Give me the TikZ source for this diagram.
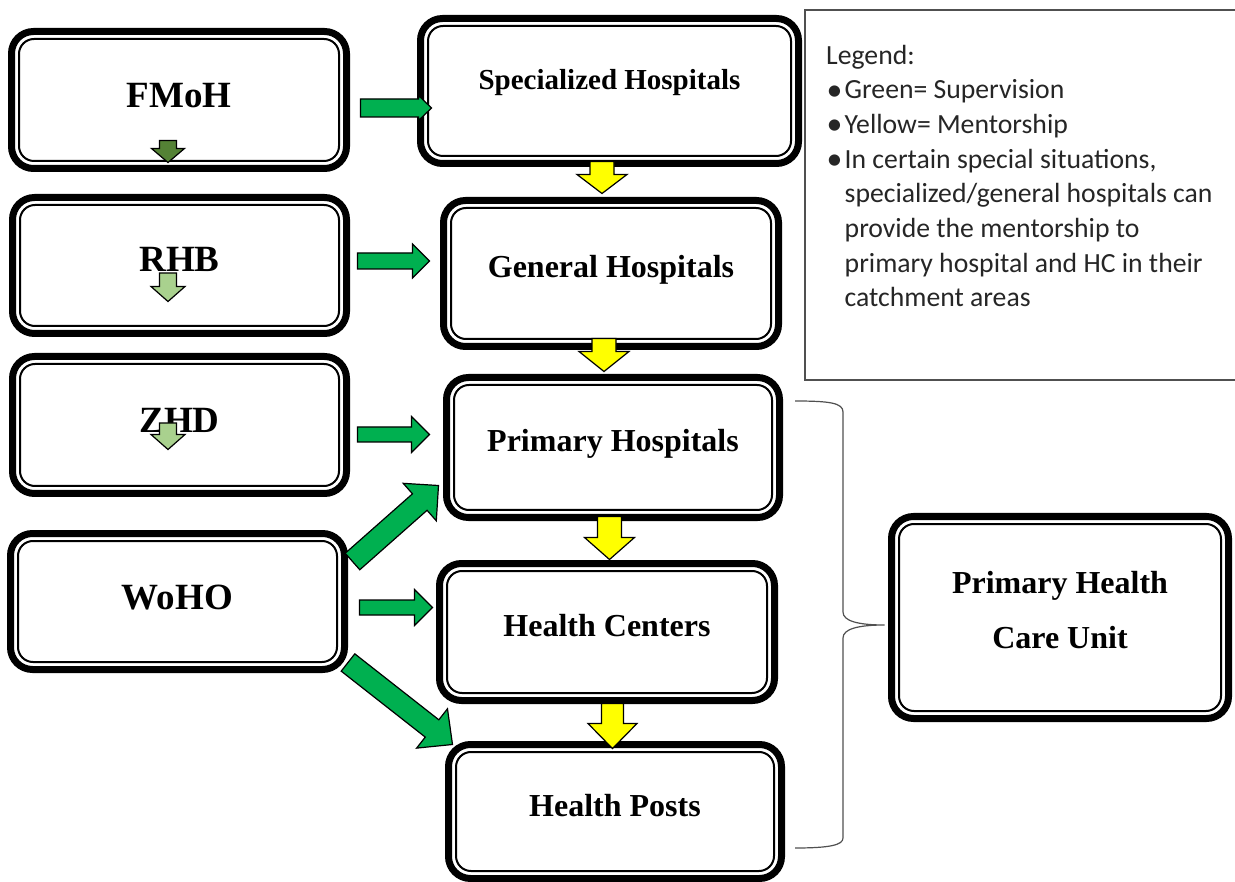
\documentclass[tikz,border=0pt]{standalone}
\usepackage{fontspec}
\setmainfont{Liberation Serif}
\newfontfamily\legfont{Carlito}
\usetikzlibrary{calc}
\definecolor{supgreen}{HTML}{00B050}
\definecolor{darkgreen}{HTML}{548235}
\definecolor{lightgreen}{HTML}{A9D18E}
\definecolor{mentyellow}{HTML}{FFFF00}
\definecolor{bracegrey}{HTML}{505050}
\definecolor{legendtext}{HTML}{262626}
\newcommand\legbullet{\makebox[18.5pt][l]{\hspace*{0.5pt}\raisebox{-1.5pt}{\scalebox{1.15}{•}}}}
\tikzset{
  dbox/.style={draw, line width=7pt, rounded corners=22pt, inner sep=0pt, align=center,
    path picture={\draw[line width=2pt, rounded corners=15pt]
      ([shift={(7.5pt,-7.5pt)}]path picture bounding box.north west) rectangle
      ([shift={(-7.5pt,7.5pt)}]path picture bounding box.south east);}},
  leftfont/.style={font=\bfseries\fontsize{37}{44}\selectfont},
  rightfont/.style={font=\bfseries\fontsize{32}{55}\selectfont},
  barrowline/.style={draw=black, line width=1.2pt, line join=miter},
  bracepath/.style={draw=bracegrey, line width=1.2pt},
}
% block arrow: #1 fill, #2 from, #3 to, #4 shaft half width, #5 head half width, #6 head length
\newcommand\blockarrow[6]{%
  \path let \p1=(#2), \p2=(#3) in \pgfextra{%
    \pgfmathsetmacro\bang{atan2(\y2-\y1,\x2-\x1)}%
    \pgfmathsetmacro\blen{veclen(\x2-\x1,\y2-\y1)}%
    \global\let\bang\bang\global\let\blen\blen};
  \begin{scope}[shift={(#2)}, rotate=\bang]
    \draw[barrowline, fill=#1] (0pt,#4pt) -- ({\blen pt-#6pt},#4pt) -- ({\blen pt-#6pt},#5pt)
      -- (\blen pt,0pt) -- ({\blen pt-#6pt},-#5pt) -- ({\blen pt-#6pt},-#4pt) -- (0pt,-#4pt) -- cycle;
  \end{scope}
}
\begin{document}
\begin{tikzpicture}[x=1pt, y=-1pt]
\clip (0,0) rectangle (1235,882);
\fill[white] (0,0) rectangle (1235,882);

% legend frame
\draw[bracegrey, line width=1.2pt] (805,10) rectangle (1245,380);
\node[anchor=base west, align=left, inner sep=0pt, text=legendtext,
      font=\legfont\fontsize{27.7}{34.7}\selectfont] (legend) at (826,307)
 {Legend:\\
  \legbullet Green= Supervision\\
  \legbullet Yellow= Mentorship\\
  \legbullet In certain special situations,\\
  \hspace*{18.5pt}specialized/general hospitals can\\
  \hspace*{18.5pt}provide the mentorship to\\
  \hspace*{18.5pt}primary hospital and HC in their\\
  \hspace*{18.5pt}catchment areas};

% left column
\node[dbox, leftfont, minimum width=335pt, minimum height=137pt, text height=16pt, text depth=0pt] (fmoh) at (179,100) {FMoH};
\node[dbox, leftfont, minimum width=334pt, minimum height=136pt, text height=13pt, text depth=0pt] (rhb) at (179.5,265.5) {RHB};
\node[dbox, leftfont, minimum width=334pt, minimum height=137pt, text height=16pt, text depth=0pt] (zhd) at (179.5,425) {ZHD};
\node[dbox, leftfont, minimum width=334pt, minimum height=136pt, text height=15pt, text depth=0pt] (woho) at (177.5,601.5) {WoHO};

% right column
\node[dbox, font=\bfseries\fontsize{29}{35}\selectfont, minimum width=378pt, minimum height=145pt, text height=0pt, text depth=2pt] (spec) at (609.5,91) {Specialized Hospitals};
\node[dbox, rightfont, minimum width=335pt, minimum height=146pt, text height=8pt, text depth=0pt] (gen) at (611,273.5) {General Hospitals};
\node[dbox, rightfont, minimum width=333pt, minimum height=140pt, text height=8pt, text depth=0pt] (prim) at (613,447.5) {Primary Hospitals};
\node[dbox, rightfont, minimum width=335pt, minimum height=137pt, text height=9pt, text depth=0pt] (hc) at (607,632) {Health Centers};
\node[dbox, rightfont, minimum width=333pt, minimum height=134pt, text height=10pt, text depth=0pt] (hp) at (615,811.5) {Health Posts};
\node[dbox, rightfont, minimum width=337pt, minimum height=202pt, text height=61pt, text depth=0pt] (phcu) at (1060,617.5) {Primary Health\\Care Unit};

% brace
\coordinate (bracetip) at ($(phcu.west)+(-3.5,7.5)$);
\draw[bracepath] (795,401) .. controls (830,401) and (843,403) .. (843,412) -- (843,612)
  .. controls (843,621) and (858,625) .. (bracetip)
  .. controls (858,625) and (843,629) .. (843,638) -- (843,838)
  .. controls (843,845) and (830,848) .. (795,848);

% green supervision arrows
\blockarrow{supgreen}{$(fmoh.east)+(10.5,8)$}{$(spec.west)+(14.5,17)$}{9}{12.5}{13}
\blockarrow{supgreen}{$(rhb.east)+(7.5,-4.5)$}{$(gen.west)+(-10.5,-12.5)$}{8}{17}{17}
\blockarrow{supgreen}{$(zhd.east)+(7.5,9.5)$}{$(prim.west)+(-13.5,-13)$}{7.5}{18}{18}
\blockarrow{supgreen}{$(woho.east)+(11.5,6)$}{$(hc.west)+(-3.5,-24.5)$}{7.5}{18}{18}
\blockarrow{supgreen}{$(woho.north east)+(4.5,31.5)$}{$(prim.south west)+(-4.5,-35.5)$}{11}{25}{25}
\blockarrow{supgreen}{$(woho.south east)+(0,-10.5)$}{$(hp.north west)+(7.5,3.5)$}{11}{25}{26}

% small downward arrows in the left boxes
\blockarrow{darkgreen}{$(fmoh.south)+(-11,-31.5)$}{$(rhb.north)+(-11.5,-31.5)$}{8.5}{16.5}{14}
\blockarrow{lightgreen}{$(rhb.center)+(-11.5,7.5)$}{$(zhd.north)+(-11.5,-51.5)$}{8.5}{17}{15}
\blockarrow{lightgreen}{$(zhd.center)+(-11.5,-2)$}{$(woho.north)+(-9.5,-80.5)$}{8.5}{17}{15}

% yellow mentorship arrows
\blockarrow{mentyellow}{$(spec.south)+(-7.5,-5.5)$}{$(gen.north)+(-9,-3.5)$}{12}{25}{19}
\blockarrow{mentyellow}{$(gen.south)+(-7,-11.5)$}{$(prim.north)+(-9,-2.5)$}{12}{25}{20}
\blockarrow{mentyellow}{$(prim.south)+(-3.5,-4.5)$}{$(hc.north)+(2.5,-0.5)$}{12}{25}{22}
\blockarrow{mentyellow}{$(hc.south)+(5.5,-0.5)$}{$(hp.north)+(-2.5,7.5)$}{11}{24.5}{25}
\end{tikzpicture}
\end{document}
